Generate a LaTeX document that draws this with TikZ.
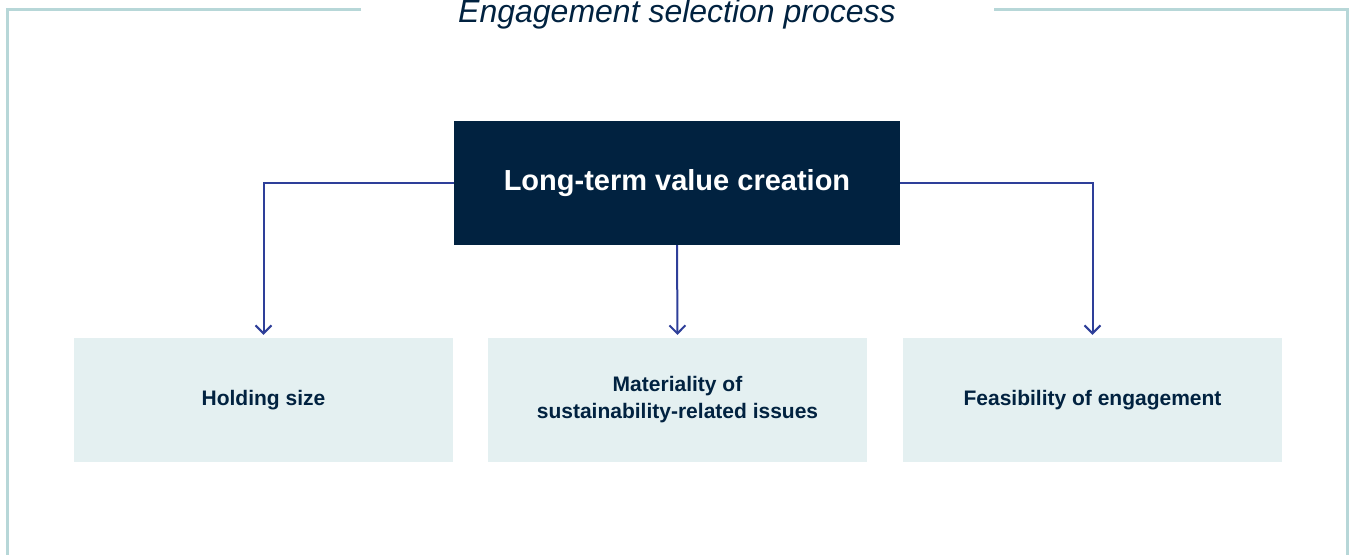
\documentclass[tikz,border=0pt]{standalone}
\usepackage{fontspec}
\setmainfont{Liberation Sans}
\usepackage{tikz}
\usetikzlibrary{arrows.meta}

\definecolor{navy}{HTML}{012240}
\definecolor{inkblue}{HTML}{2E3F99}
\definecolor{paleteal}{HTML}{E4F0F1}
\definecolor{frameteal}{HTML}{B7D7D8}

\begin{document}
\begin{tikzpicture}[x=1pt, y=-1pt,
    topbox/.style={fill=navy, text=white, minimum width=446pt, minimum height=124pt,
      inner sep=0pt, font=\fontsize{29}{34}\selectfont\bfseries},
    critbox/.style={fill=paleteal, text=navy, minimum width=379pt, minimum height=124pt,
      inner sep=0pt, align=center, font=\fontsize{21}{27}\selectfont\bfseries},
    link/.style={draw=inkblue, line width=2pt, -{Straight Barb[length=8pt,width=16pt]},
      shorten >=3pt}]
  \useasboundingbox (0,0) rectangle (1351,554);

  % frame, open at the top for the title
  \draw[frameteal, line width=3pt] (361,9) -| (7.5,556);
  \draw[frameteal, line width=3pt] (994,9) -| (1347.5,556);
  \node[anchor=base, text=navy, font=\fontsize{32}{36}\selectfont\itshape] (title) at (677,23)
    {Engagement selection process};

  \node[topbox] (value) at (677,183) {Long-term value creation};

  \node[critbox] (size) at (263.5,400) {Holding size};
  \node[critbox] (material) at (677.5,400) {Materiality of\\sustainability-related issues};
  \node[critbox] (feasible) at (1092.5,400) {Feasibility of engagement};

  \draw[link] (value.west) -| (size.north);
  \draw[link] (value.south) -- (material.north);
  \draw[link] (value.east) -| (feasible.north);
\end{tikzpicture}
\end{document}
